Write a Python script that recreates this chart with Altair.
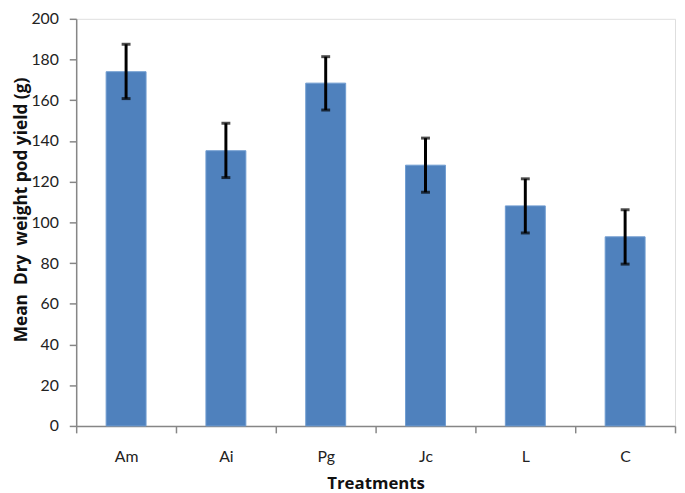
import altair as alt
import pandas as pd

treatments = ["Am", "Ai", "Pg", "Jc", "L", "C"]
means = [174.0, 135.2, 168.4, 128.1, 108.1, 92.9]
err_low = [160.8, 122.0, 155.2, 114.8, 94.8, 79.5]
err_high = [187.5, 148.7, 181.4, 141.4, 121.4, 106.2]

df = pd.DataFrame({"t": treatments, "m": means, "lo": err_low, "hi": err_high})

FONT = "Lato"
TFONT = "Open Sans"
NB = "\u00a0"
y_title = f"Mean{NB}{NB}Dry{NB}{NB}weight pod yield (g)"

x = alt.X("t:N", sort=treatments, title="Treatments",
          scale=alt.Scale(paddingInner=0, paddingOuter=0),
          axis=alt.Axis(labelAngle=0, tickBand="extent", labelFontSize=16,
                        labelFont=FONT, labelColor="#222222", labelPadding=16,
                        titleFont=TFONT, titleFontSize=17, titleFontWeight="bold",
                        titleColor="#111111", titleBaseline="alphabetic",
                        titleY=63,
                        domainColor="#868686", domainWidth=1.5,
                        tickColor="#868686", tickWidth=1.5, tickSize=7))

y_axis = alt.Axis(values=list(range(0, 201, 20)), grid=False, labelFontSize=16,
                  labelFont=FONT, labelColor="#222222", labelPadding=11,
                  title=y_title,
                  titleFont=TFONT, titleFontSize=17.5, titleFontWeight="bold",
                  titleColor="#111111", titleBaseline="alphabetic",
                  titleX=-50, titleY=193,
                  domainColor="#868686", domainWidth=1.5,
                  tickColor="#868686", tickWidth=1.5, tickSize=7)

base = alt.Chart(df)
bars = base.mark_bar(width=alt.RelativeBandSize(0.4), color="#4F81BD",
                     stroke="#6F9BD0", strokeWidth=1).encode(
    x=x,
    y=alt.Y("m:Q", scale=alt.Scale(domain=[0, 200], nice=False), axis=y_axis),
)
rules = base.mark_rule(color="black", strokeWidth=3).encode(
    x=alt.X("t:N", sort=treatments), y="lo:Q", y2="hi:Q")
caps_hi = base.mark_tick(color="black", size=9, thickness=3, orient="horizontal").encode(
    x=alt.X("t:N", sort=treatments), y="hi:Q")
caps_lo = base.mark_tick(color="black", size=9, thickness=3, orient="horizontal").encode(
    x=alt.X("t:N", sort=treatments), y="lo:Q")

chart = alt.layer(bars, rules, caps_hi, caps_lo).properties(
    width=606, height=412,
    autosize=alt.AutoSizeParams(type="none"),
    padding={"left": 69, "top": 8, "right": 2, "bottom": 72},
).configure_view(stroke=None).configure(background="white")

chart.save("out.html", embed_options={"renderer": "svg", "actions": False})
